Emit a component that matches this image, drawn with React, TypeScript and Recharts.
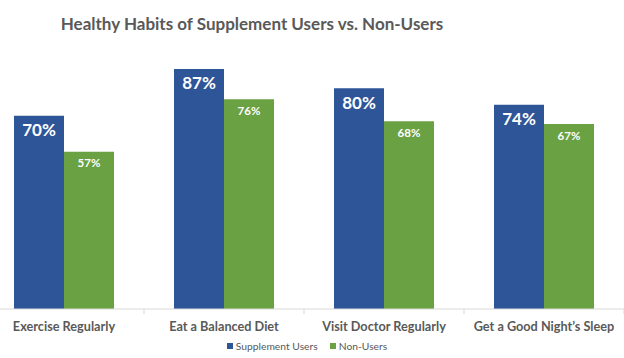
import React from "react";
import { BarChart, Bar, XAxis, YAxis, LabelList, Legend } from "recharts";

const categories = ["Exercise Regularly", "Eat a Balanced Diet", "Visit Doctor Regularly", "Get a Good Night\u2019s Sleep"];
const supplementUsers = [70, 87, 80, 74];
const nonUsers = [57, 76, 68, 67];
const seriesNames = ["Supplement Users", "Non-Users"];
const title = "Healthy Habits of Supplement Users vs. Non-Users";

const data = categories.map((c, i) => ({
  name: c,
  users: supplementUsers[i],
  nonUsers: nonUsers[i],
}));

const BLUE = "#2E5597";
const GREEN = "#6AA143";
const TEXT = "#595959";
const FONT = "Lato, 'Open Sans', sans-serif";

const CHART_W = 656;
const CHART_H = 358;
const MARGIN = { top: 33, right: 16, left: 0, bottom: 0 };
const PLOT_W = CHART_W - MARGIN.left - MARGIN.right;
const BAND = PLOT_W / categories.length;

const CategoryTick = (props: any) => {
  const { x, y, payload } = props;
  return (
    <g>
      <line x1={x + BAND / 2} x2={x + BAND / 2} y1={y} y2={y + 5} stroke="#D9D9D9" strokeWidth={1} />
      <text
        x={x}
        y={y + 17}
        textAnchor="middle"
        dominantBaseline="central"
        fill={TEXT}
        fontFamily={FONT}
        fontWeight={700}
        fontSize={12.7}
      >
        {payload.value}
      </text>
    </g>
  );
};

const makeLabel = (fontSize: number, offset: number) => (props: any) => {
  const { x, y, width, value } = props;
  return (
    <text
      x={x + width / 2}
      y={y + offset}
      textAnchor="middle"
      dominantBaseline="central"
      fill="#FFFFFF"
      fontFamily={FONT}
      fontWeight={700}
      fontSize={fontSize}
    >
      {value}%
    </text>
  );
};

const LegendContent = () => {
  const items = [
    { name: seriesNames[0], color: BLUE },
    { name: seriesNames[1], color: GREEN },
  ];
  return (
    <div style={{ display: "flex", justifyContent: "center", fontFamily: FONT, fontSize: 10.3, color: TEXT }}>
      {items.map((it, i) => (
        <div key={it.name} style={{ display: "flex", alignItems: "center", marginLeft: i === 0 ? 0 : 12 }}>
          <span style={{ display: "inline-block", width: 6, height: 6, background: it.color, marginRight: 3 }} />
          <span>{it.name}</span>
        </div>
      ))}
    </div>
  );
};

export default function App() {
  return (
    <div
      style={{
        position: "absolute",
        left: 0,
        top: 0,
        width: 624,
        height: 358,
        overflow: "hidden",
        background: "#FFFFFF",
      }}
    >
      <div
        style={{
          position: "absolute",
          left: 0,
          top: 11,
          width: 504,
          textAlign: "center",
          fontFamily: FONT,
          fontWeight: 700,
          fontSize: 17,
          lineHeight: "26px",
          color: TEXT,
        }}
      >
        {title}
      </div>
      <div style={{ position: "absolute", left: -16, top: 0 }}>
        <BarChart width={CHART_W} height={CHART_H} data={data} margin={MARGIN} barCategoryGap={30} barGap={0}>
          <XAxis
            dataKey="name"
            axisLine={{ stroke: "#D9D9D9" }}
            tickLine={false}
            tickSize={0}
            tickMargin={0}
            height={49}
            interval={0}
            tick={<CategoryTick />}
          />
          <YAxis hide domain={[0, 100]} />
          <Legend
            layout="horizontal"
            verticalAlign="middle"
            align="center"
            content={<LegendContent />}
            wrapperStyle={{ position: "absolute", top: 340, left: -5, width: CHART_W, height: 16 }}
          />
          <Bar dataKey="users" name={seriesNames[0]} fill={BLUE} isAnimationActive={false}>
            <LabelList dataKey="users" content={makeLabel(17, 14)} />
          </Bar>
          <Bar dataKey="nonUsers" name={seriesNames[1]} fill={GREEN} isAnimationActive={false}>
            <LabelList dataKey="nonUsers" content={makeLabel(11.5, 11)} />
          </Bar>
        </BarChart>
      </div>
    </div>
  );
}
